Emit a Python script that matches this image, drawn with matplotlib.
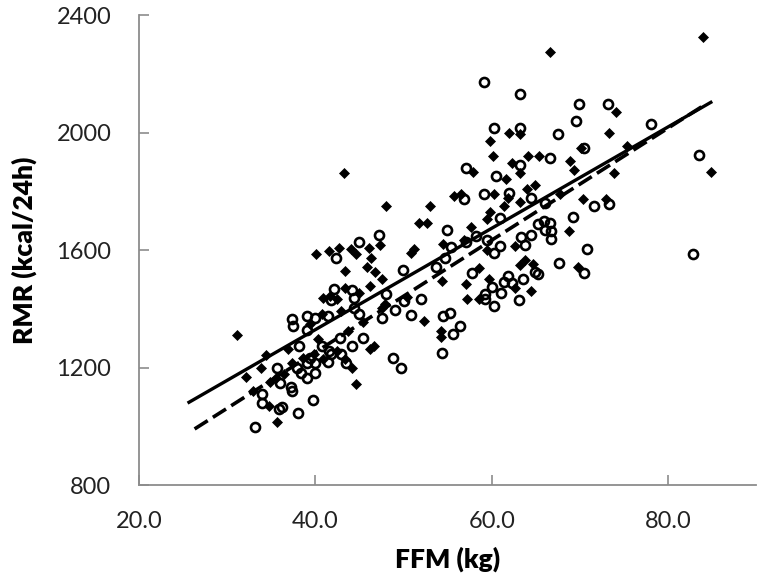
import numpy as np
import matplotlib
matplotlib.use('Agg')
import matplotlib.pyplot as plt

plt.rcParams['font.family'] = ['Lato', 'DejaVu Sans']

# open circles (FFM kg, RMR kcal/24h)
circ_x = [59.1, 63.2, 69.9, 73.2, 69.5, 60.2, 63.2, 67.5, 78.1, 70.5,
          83.5, 66.6, 57.1, 63.2, 60.5, 59.1, 56.9, 62.0, 64.5, 66.0,
          71.6, 73.3, 60.9, 69.2, 65.2, 65.9, 66.6, 66.0, 66.7, 66.7,
          54.9, 58.2, 59.4, 63.3, 64.4, 70.8, 55.4, 54.7, 57.1, 60.9,
          60.3, 63.8, 67.6, 70.4, 82.8, 57.7, 64.9, 65.2, 61.8, 61.4,
          62.3, 63.5, 60.0, 61.1, 63.1, 59.2, 59.2, 60.3, 54.5, 55.3,
          56.4, 55.6, 54.4, 42.3, 44.9, 47.2, 49.9, 53.7, 42.1, 41.8,
          44.1, 44.4, 48.0, 52.0, 50.1, 49.0, 47.6, 50.8, 37.3, 37.5,
          39.0, 40.0, 41.4, 39.1, 44.9, 44.4, 45.4, 44.1, 42.8, 38.1,
          40.7, 41.5, 41.4, 42.9, 43.5, 39.4, 39.0, 40.0, 37.9, 38.4,
          39.1, 39.9, 41.8, 35.6, 36.0, 33.9, 33.9, 37.3, 36.2, 38.0,
          39.7, 33.2, 48.8, 49.7, 35.9, 37.2]
circ_y = [2174, 2130, 2096, 2096, 2038, 2017, 2017, 1997, 2028, 1949,
          1925, 1915, 1878, 1891, 1854, 1792, 1775, 1796, 1779, 1762,
          1751, 1758, 1710, 1714, 1690, 1700, 1693, 1670, 1666, 1639,
          1670, 1649, 1635, 1646, 1653, 1605, 1612, 1574, 1629, 1615,
          1591, 1618, 1557, 1523, 1588, 1523, 1526, 1520, 1513, 1492,
          1489, 1502, 1475, 1455, 1431, 1451, 1434, 1410, 1376, 1387,
          1342, 1315, 1250, 1574, 1629, 1653, 1533, 1543, 1468, 1431,
          1465, 1438, 1451, 1434, 1427, 1397, 1369, 1380, 1366, 1342,
          1376, 1369, 1376, 1329, 1383, 1404, 1301, 1274, 1301, 1274,
          1274, 1257, 1219, 1247, 1216, 1233, 1216, 1216, 1199, 1182,
          1165, 1182, 1247, 1199, 1148, 1110, 1080, 1121, 1066, 1046,
          1090, 998, 1233, 1199, 1059, 1134]

# filled diamonds
diam_x = [66.6, 84.0, 74.1, 61.9, 63.2, 73.3, 59.8, 70.1, 84.9, 60.1,
          64.1, 65.3, 57.9, 62.3, 63.2, 68.9, 69.3, 61.6, 73.9, 75.3,
          64.9, 64.0, 60.3, 55.7, 56.5, 61.8, 63.2, 61.4, 67.7, 70.3,
          72.9, 59.8, 59.4, 68.7, 57.6, 56.8, 54.5, 62.6, 69.8, 58.6,
          54.4, 57.1, 63.2, 63.8, 64.7, 62.6, 59.7, 64.4, 58.6, 57.2,
          54.2, 54.2, 43.2, 48.0, 53.0, 51.8, 52.7, 47.3, 42.7, 44.0,
          41.5, 46.1, 51.2, 50.8, 40.1, 44.6, 46.3, 45.9, 46.8, 47.5,
          43.3, 46.2, 40.9, 41.6, 42.4, 43.4, 44.9, 50.4, 47.9, 47.6,
          52.3, 40.7, 39.4, 42.9, 45.4, 46.6, 43.7, 40.3, 36.9, 34.4,
          33.8, 32.1, 31.1, 43.4, 44.1, 38.6, 39.8, 37.3, 40.9, 42.4,
          35.5, 34.9, 36.4, 44.6, 34.7, 35.6, 32.9, 59.4, 46.2]
diam_y = [2273, 2324, 2069, 2000, 1996, 2000, 1973, 1949, 1867, 1922,
          1922, 1922, 1867, 1898, 1861, 1905, 1874, 1843, 1864, 1953,
          1823, 1809, 1792, 1785, 1792, 1779, 1765, 1751, 1792, 1775,
          1775, 1731, 1707, 1666, 1680, 1635, 1622, 1615, 1543, 1540,
          1496, 1485, 1550, 1567, 1554, 1472, 1502, 1462, 1434, 1434,
          1325, 1305, 1864, 1751, 1751, 1693, 1693, 1618, 1608, 1605,
          1598, 1608, 1605, 1591, 1588, 1588, 1574, 1543, 1526, 1502,
          1530, 1479, 1438, 1444, 1434, 1472, 1455, 1441, 1417, 1404,
          1359, 1383, 1349, 1393, 1356, 1274, 1325, 1298, 1264, 1243,
          1199, 1168, 1312, 1230, 1199, 1233, 1247, 1216, 1230, 1257,
          1165, 1151, 1179, 1144, 1069, 1015, 1121, 1601, 1264]

# regression lines (end points)
solid_x = [25.5, 85.0]
solid_y = [1079, 2106]
dash_x = [26.3, 84.0]
dash_y = [991, 2092]

fig = plt.figure(figsize=(7.64, 5.83), dpi=100)
ax = fig.add_axes([0.182, 0.168, 0.808, 0.806])

ax.plot(circ_x, circ_y, 'o', ms=6.5, mfc='none', mec='black', mew=1.9, zorder=3)
ax.plot(diam_x, diam_y, 'D', ms=4.6, mfc='black', mec='black', mew=0.5, zorder=3)
ax.plot(solid_x, solid_y, '-', color='black', lw=2.4, solid_capstyle='butt', zorder=4)
ax.plot(dash_x, dash_y, '-', color='black', lw=2.6, dashes=(4.3, 1.7), zorder=4)

ax.set_xlim(20, 90)
ax.set_ylim(800, 2400)
ax.set_xticks([20, 40, 60, 80])
ax.set_xticklabels(['20.0', '40.0', '60.0', '80.0'])
ax.set_yticks([800, 1200, 1600, 2000, 2400])

for s in ['top', 'right']:
    ax.spines[s].set_visible(False)
for s in ['left', 'bottom']:
    ax.spines[s].set_color('#8c8c8c')
    ax.spines[s].set_linewidth(1.3)

ax.tick_params(axis='both', direction='in', length=7, width=1.2, color='#8c8c8c',
               labelsize=17, labelcolor='#222222')
ax.tick_params(axis='y', pad=20)
ax.tick_params(axis='x', pad=19)

ax.set_xlabel('FFM (kg)', fontsize=19, fontweight='heavy', labelpad=10)
ax.set_ylabel('RMR (kcal/24h)', fontsize=19, fontweight='heavy', labelpad=14)

fig.savefig('out.png', dpi=100)
